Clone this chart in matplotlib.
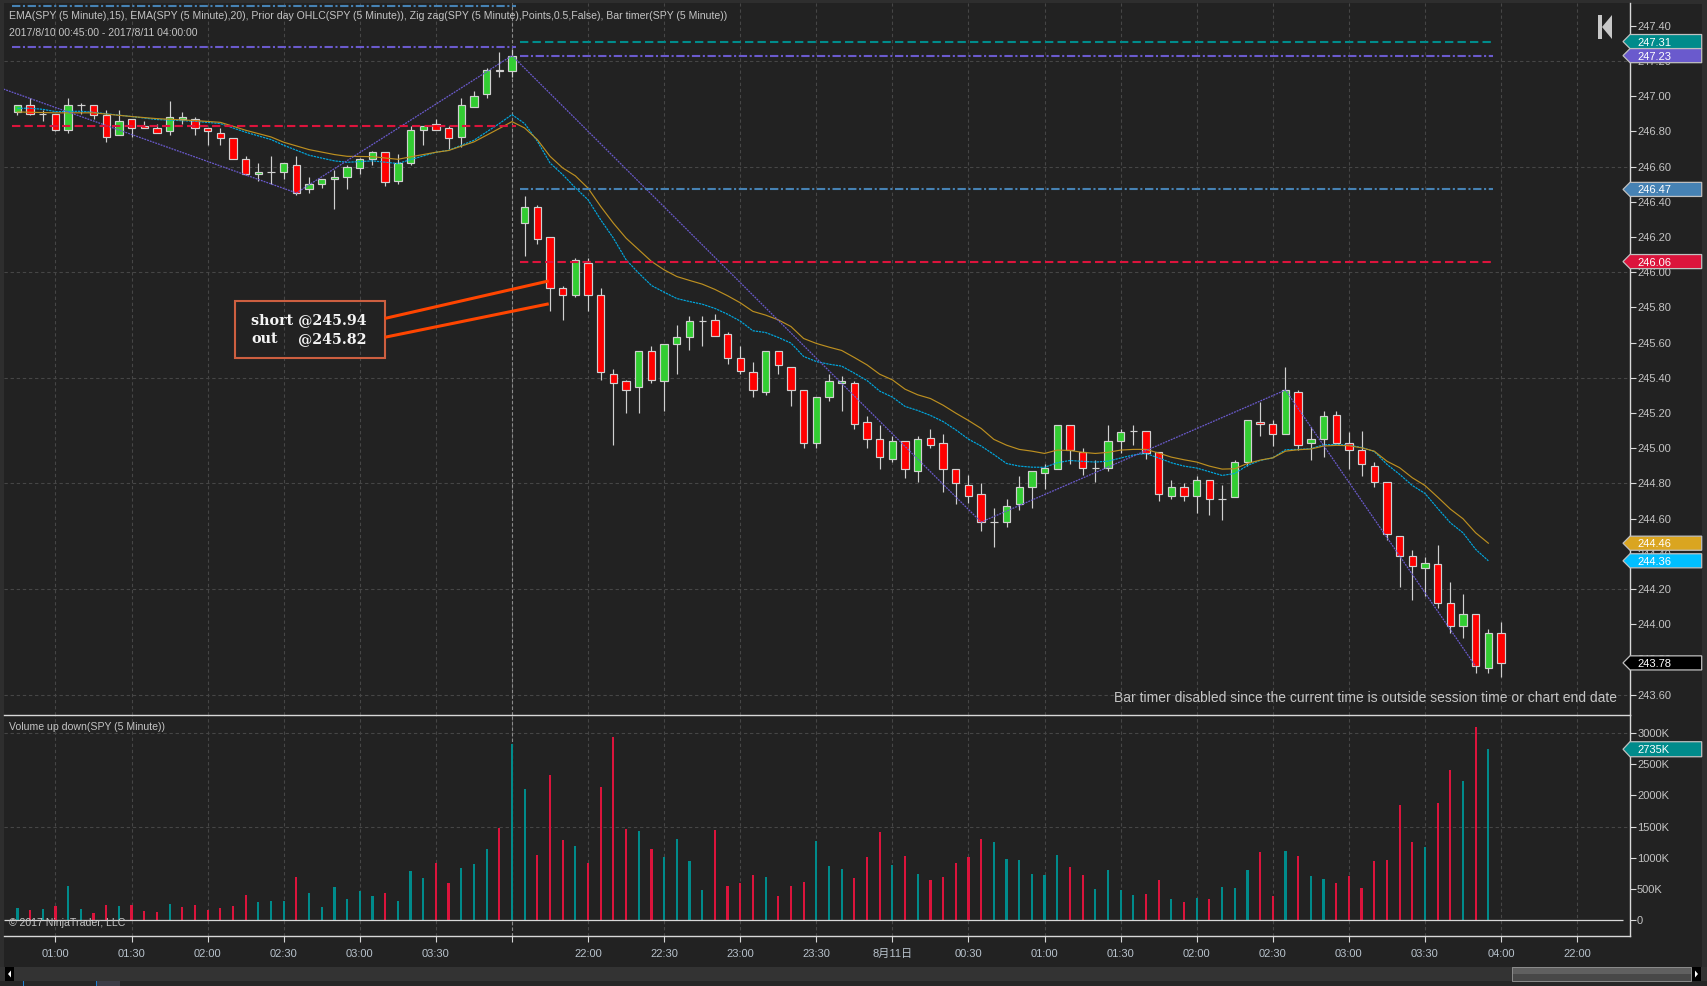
# Import
import matplotlib
matplotlib.use("Agg")
import numpy as np
import matplotlib.pyplot as plt
from matplotlib.patches import Polygon, Rectangle
from matplotlib.transforms import blended_transform_factory
from matplotlib.ticker import FixedLocator, FixedFormatter

plt.rcParams['font.family'] = ['Liberation Sans', 'Noto Sans CJK SC', 'DejaVu Sans']

# Candles, 5 minute bars, one row per ten bars
opens = [246.91, 246.95, 246.90, 246.90, 246.81, 246.95, 246.95, 246.89, 246.78, 246.87,
         246.83, 246.82, 246.80, 246.87, 246.87, 246.82, 246.79, 246.76, 246.64, 246.56,
         246.57, 246.57, 246.61, 246.47, 246.50, 246.53, 246.54, 246.59, 246.64, 246.68,
         246.52, 246.62, 246.81, 246.84, 246.82, 246.77, 246.94, 247.01, 247.15, 247.14,
         246.28, 246.37, 246.20, 245.91, 245.87, 246.05, 245.87, 245.42, 245.38, 245.35,
         245.55, 245.38, 245.59, 245.63, 245.72, 245.73, 245.65, 245.51, 245.43, 245.32,
         245.55, 245.46, 245.33, 245.03, 245.29, 245.37, 245.37, 245.15, 245.05, 244.94,
         245.04, 244.87, 245.06, 245.03, 244.88, 244.79, 244.74, 244.58, 244.58, 244.68,
         244.78, 244.86, 244.88, 245.13, 244.98, 244.89, 244.89, 245.04, 245.10, 245.10,
         244.98, 244.73, 244.78, 244.73, 244.82, 244.71, 244.72, 244.92, 245.15, 245.14,
         245.08, 245.32, 245.03, 245.05, 245.19, 245.03, 244.99, 244.90, 244.81, 244.50,
         244.39, 244.32, 244.34, 244.12, 243.99, 244.06, 243.75, 243.95]
closes = [246.95, 246.90, 246.90, 246.81, 246.95, 246.95, 246.89, 246.77, 246.86, 246.82,
          246.82, 246.79, 246.88, 246.88, 246.82, 246.80, 246.76, 246.64, 246.56, 246.57,
          246.57, 246.62, 246.45, 246.50, 246.53, 246.54, 246.60, 246.64, 246.68, 246.51,
          246.62, 246.81, 246.83, 246.81, 246.76, 246.95, 247.00, 247.15, 247.14, 247.23,
          246.37, 246.19, 245.91, 245.87, 246.07, 245.87, 245.43, 245.37, 245.33, 245.55,
          245.39, 245.59, 245.63, 245.72, 245.72, 245.64, 245.51, 245.44, 245.33, 245.55,
          245.47, 245.33, 245.03, 245.29, 245.38, 245.38, 245.14, 245.05, 244.95, 245.04,
          244.88, 245.05, 245.02, 244.88, 244.80, 244.73, 244.58, 244.58, 244.67, 244.78,
          244.87, 244.89, 245.13, 244.99, 244.89, 244.89, 245.04, 245.09, 245.10, 244.97,
          244.74, 244.78, 244.73, 244.82, 244.71, 244.71, 244.92, 245.16, 245.14, 245.08,
          245.33, 245.02, 245.05, 245.18, 245.03, 244.99, 244.91, 244.81, 244.51, 244.39,
          244.33, 244.35, 244.12, 243.99, 244.06, 243.76, 243.95, 243.78]
highs = [246.95, 246.99, 246.92, 246.90, 246.99, 246.96, 246.95, 246.92, 246.92, 246.87,
         246.86, 246.84, 246.97, 246.91, 246.88, 246.82, 246.82, 246.76, 246.66, 246.62,
         246.66, 246.62, 246.66, 246.54, 246.53, 246.58, 246.61, 246.65, 246.69, 246.68,
         246.67, 246.83, 246.83, 246.87, 246.83, 246.99, 247.03, 247.16, 247.25, 247.27,
         246.43, 246.38, 246.20, 245.92, 246.08, 246.08, 245.91, 245.45, 245.39, 245.55,
         245.58, 245.59, 245.70, 245.75, 245.75, 245.76, 245.66, 245.58, 245.49, 245.55,
         245.55, 245.46, 245.33, 245.29, 245.42, 245.41, 245.38, 245.18, 245.13, 245.07,
         245.04, 245.07, 245.11, 245.08, 244.88, 244.85, 244.80, 244.66, 244.71, 244.84,
         244.87, 244.91, 245.13, 245.13, 245.00, 244.93, 245.13, 245.11, 245.13, 245.10,
         244.98, 244.82, 244.80, 244.84, 244.82, 244.79, 244.93, 245.16, 245.26, 245.16,
         245.46, 245.33, 245.12, 245.21, 245.21, 245.09, 245.10, 244.92, 244.81, 244.50,
         244.42, 244.38, 244.45, 244.24, 244.17, 244.06, 243.97, 244.01]
lows = [246.89, 246.89, 246.86, 246.80, 246.79, 246.90, 246.87, 246.74, 246.78, 246.77,
        246.82, 246.79, 246.78, 246.84, 246.78, 246.72, 246.72, 246.64, 246.55, 246.52,
        246.50, 246.53, 246.44, 246.45, 246.48, 246.36, 246.47, 246.56, 246.61, 246.49,
        246.50, 246.61, 246.72, 246.81, 246.70, 246.71, 246.94, 246.99, 247.11, 247.11,
        246.09, 246.16, 245.78, 245.73, 245.86, 245.78, 245.39, 245.02, 245.20, 245.20,
        245.37, 245.21, 245.42, 245.56, 245.58, 245.64, 245.48, 245.42, 245.29, 245.30,
        245.42, 245.24, 245.00, 245.00, 245.27, 245.21, 245.11, 245.00, 244.88, 244.92,
        244.83, 244.81, 245.00, 244.75, 244.68, 244.69, 244.53, 244.44, 244.55, 244.65,
        244.66, 244.77, 244.88, 244.91, 244.85, 244.81, 244.87, 244.97, 245.02, 244.94,
        244.70, 244.71, 244.70, 244.63, 244.62, 244.59, 244.72, 244.90, 245.07, 245.01,
        245.08, 244.99, 244.93, 244.95, 245.03, 244.88, 244.84, 244.78, 244.48, 244.21,
        244.14, 244.16, 244.09, 243.95, 243.92, 243.72, 243.72, 243.70]

# EMA lines, read bar by bar where they bend
ema20_bars = [0, 3, 6, 9, 11, 14, 16, 17, 18, 20, 21, 23, 25, 26, 28, 30, 31, 33, 34, 36, 38, 39, 40, 41, 42, 43, 44,
              45, 46, 47, 48, 49, 50, 51, 52, 53, 54, 55, 56, 57, 58, 59, 60, 61, 62, 63, 64, 65, 66, 67, 68, 69, 70,
              71, 72, 73, 74, 75, 76, 77, 78, 79, 80, 81, 82, 83, 84, 85, 86, 87, 88, 89, 90, 91, 92, 93, 94, 95, 96,
              97, 98, 99, 100, 101, 102, 103, 104, 105, 106, 107, 108, 109, 110, 111, 112, 113, 114, 115, 116]
ema20 = [246.910, 246.905, 246.905, 246.884, 246.872, 246.861, 246.851, 246.829, 246.806, 246.768, 246.738, 246.696,
         246.668, 246.658, 246.656, 246.641, 246.655, 246.681, 246.691, 246.740, 246.816, 246.855, 246.819, 246.753,
         246.658, 246.592, 246.547, 246.477, 246.373, 246.278, 246.193, 246.127, 246.061, 246.013, 245.975, 245.953,
         245.932, 245.902, 245.866, 245.826, 245.777, 245.756, 245.729, 245.691, 245.623, 245.595, 245.574, 245.555,
         245.515, 245.473, 245.420, 245.388, 245.335, 245.303, 245.282, 245.244, 245.199, 245.157, 245.112, 245.050,
         245.017, 244.993, 244.983, 244.970, 244.989, 244.987, 244.976, 244.970, 244.976, 244.989, 244.993, 244.993,
         244.972, 244.949, 244.934, 244.921, 244.898, 244.881, 244.883, 244.913, 244.932, 244.945, 244.983, 244.991,
         244.995, 245.012, 245.016, 245.014, 245.002, 244.983, 244.926, 244.889, 244.832, 244.788, 244.722, 244.654,
         244.599, 244.519, 244.46]
ema15_bars = [0, 1, 2, 3, 5, 6, 9, 11, 14, 16, 17, 18, 20, 21, 23, 25, 26, 28, 30, 31, 33, 34, 36, 38, 39, 40, 41, 42, 43, 44,
              45, 46, 47, 48, 49, 50, 51, 52, 53, 54, 55, 56, 57, 58, 59, 60, 61, 62, 63, 64, 65, 66, 67, 68, 69, 70,
              71, 72, 73, 74, 75, 76, 77, 78, 79, 80, 81, 82, 83, 84, 85, 86, 87, 88, 89, 90, 91, 92, 93, 94, 95, 96,
              97, 98, 99, 100, 101, 102, 103, 104, 105, 106, 107, 108, 109, 110, 111, 112, 113, 114, 115, 116]
ema15 = [246.931, 246.931, 246.925, 246.912, 246.914, 246.908, 246.884, 246.867, 246.857, 246.844, 246.819, 246.795,
         246.753, 246.721, 246.664, 246.632, 246.624, 246.632, 246.617, 246.639, 246.681, 246.692, 246.749, 246.844,
         246.895, 246.844, 246.744, 246.620, 246.554, 246.479, 246.411, 246.297, 246.193, 246.070, 245.994, 245.924,
         245.886, 245.850, 245.833, 245.818, 245.794, 245.761, 245.722, 245.667, 245.657, 245.629, 245.597, 245.521,
         245.492, 245.477, 245.466, 245.426, 245.384, 245.324, 245.290, 245.237, 245.214, 245.186, 245.151, 245.104,
         245.051, 245.012, 244.964, 244.913, 244.898, 244.892, 244.891, 244.917, 244.930, 244.925, 244.921, 244.926,
         244.944, 244.961, 244.970, 244.944, 244.917, 244.898, 244.887, 244.866, 244.845, 244.856, 244.902, 244.930,
         244.945, 244.991, 244.993, 244.997, 245.019, 245.021, 245.017, 245.004, 244.981, 244.908, 244.851, 244.788,
         244.743, 244.658, 244.576, 244.519, 244.425, 244.36]

# Zig zag turning points
zigzag_bars = [-1.1, 22, 39, 76, 100, 115]
zigzag_vals = [247.04, 246.45, 247.23, 244.58, 245.33, 243.76]

# Prior day levels, one per session
old_levels = [247.51, 247.28, 246.83]
new_levels = [247.31, 247.23, 246.47, 246.06]

# Volume in K
volume = [197, 165, 181, 229, 548, 181, 117, 245, 229, 245,
          149, 133, 261, 213, 245, 160, 197, 229, 404, 293,
          309, 309, 692, 436, 213, 532, 340, 468, 388, 436,
          309, 787, 676, 915, 596, 835, 899, 1138, 1473, 2814,
          2096, 1043, 2319, 1282, 1186, 915, 2128, 2926, 1458, 1426,
          1138, 1011, 1298, 947, 484, 1442, 548, 596, 724, 692,
          388, 548, 612, 1266, 867, 819, 676, 1011, 1410, 883,
          1027, 739, 644, 692, 915, 1011, 1298, 1250, 979, 963,
          739, 724, 1043, 851, 724, 500, 803, 484, 404, 420,
          644, 340, 293, 356, 346, 537, 521, 809, 1096, 394,
          1112, 1032, 713, 665, 601, 713, 521, 952, 968, 1846,
          1255, 1176, 1878, 2404, 2229, 3090, 2735]
vol_dir = ("ududuuddud" "dduddddddu" "uuduuuuuud" "uuudduuudu" "udddu" "ddddu"
           "duuuuddddu" "ddduuudddu" "duddddduuu" "uuudduuuud" "dududuuudd"
           "uduudddddd" "duddudu")

# Axis labels
time_ticks = [3, 9, 15, 21, 27, 33, 39, 45, 51, 57, 63, 69, 75, 81, 87, 93, 99, 105, 111, 117, 123]
time_labels = ["01:00", "01:30", "02:00", "02:30", "03:00", "03:30", "", "22:00", "22:30", "23:00", "23:30",
               "8月11日", "00:30", "01:00", "01:30", "02:00", "02:30", "03:00", "03:30", "04:00", "22:00"]
price_ticks = [243.6, 243.8, 244.0, 244.2, 244.4, 244.6, 244.8, 245.0, 245.2, 245.4,
               245.6, 245.8, 246.0, 246.2, 246.4, 246.6, 246.8, 247.0, 247.2, 247.4]
price_grid = [243.6, 244.2, 244.8, 245.4, 246.0, 246.6, 247.2]
vol_ticks = [0, 500, 1000, 1500, 2000, 2500, 3000]
vol_grid = [1500, 3000]

# Parameters
W = 1708.0; H = 986.0
bg = "#222222"
gridCol = "#464646"
axisCol = "#d8d8d8"
txtCol = "#c4c4c4"
gridLs = (0, (3, 2.5))

fig = plt.figure(figsize=(17.08, 9.86), dpi=100, facecolor="#2e2e2e")

def axes_px(left, top, right, bottom):
    return fig.add_axes([left/W, 1-bottom/H, (right-left)/W, (bottom-top)/H], facecolor=bg)

def fig_rect(left, top, right, bottom, **kw):
    fig.add_artist(Rectangle((left/W, 1-bottom/H), (right-left)/W, (bottom-top)/H, ec=kw.pop("ec", "none"),
                             transform=fig.transFigure, **kw))

# Window areas behind the panels
fig_rect(4, 4, 1702, 967, fc=bg, zorder=-1)
fig_rect(0, 967, 1708, 981, fc="#333333", zorder=-1)
fig_rect(0, 981, 1708, 986, fc="#262626", zorder=-1)
fig_rect(96, 981, 120, 986, fc="#3c3c46", zorder=-1)
fig_rect(23, 981, 24, 986, fc="#1e7fd0", zorder=-1)
fig_rect(96, 981, 97, 986, fc="#1e7fd0", zorder=-1)

ax = axes_px(4, 3, 1630, 715)
vx = axes_px(4, 715, 1630, 936)
xlim = (-1.06, 127.17)
bars = np.arange(len(opens))

# Price panel
ax.set_xlim(xlim)
ax.set_ylim(243.484, 247.529)
ax.set_axisbelow(True)
for lvl in price_grid:
    ax.axhline(lvl, color=gridCol, lw=0.8, ls=gridLs, zorder=0.6)
ax.vlines(bars, lows, highs, color="#d0d0d0", lw=0.85, zorder=2)
ax.bar(bars, np.abs(np.array(closes)-np.array(opens)), bottom=np.minimum(opens, closes), width=0.58,
       color=["#32cd32" if c >= o else "#ff0000" for o, c in zip(opens, closes)],
       edgecolor="#d0d0d0", linewidth=0.85, zorder=3)
ax.plot(ema15_bars, ema15, color="#00a8e0", lw=0.85, ls=(0, (2, 0.7)), zorder=4)
ax.plot(ema20_bars, ema20, color="#bc8f20", lw=0.85, zorder=4)
ax.plot(zigzag_bars, zigzag_vals, color="#6a5acd", lw=0.9, ls=(0, (1.5, 0.8)), zorder=4)

# Prior day lines
ddash = (0, (4, 2))
ddot = (0, (4, 1.25, 1, 1.25))
ax.hlines(old_levels[0], -0.4, 39.3, color="#4682b4", lw=1.5, ls=ddot, zorder=4)
ax.hlines(old_levels[1], -0.4, 39.3, color="#6a5acd", lw=1.5, ls=ddot, zorder=4)
ax.hlines(old_levels[2], -0.4, 39.3, color="#dc143c", lw=1.5, ls=ddash, zorder=4)
ax.hlines(new_levels[0], 39.6, 116.4, color="#008b8b", lw=1.5, ls=ddash, zorder=4)
ax.hlines(new_levels[1], 39.6, 116.4, color="#6a5acd", lw=1.5, ls=ddot, zorder=4)
ax.hlines(new_levels[2], 39.6, 116.4, color="#4682b4", lw=1.5, ls=ddot, zorder=4)
ax.hlines(new_levels[3], 39.6, 116.4, color="#dc143c", lw=1.5, ls=ddash, zorder=4)

# Trade note
ax.add_patch(Rectangle((17.15, 245.511), 11.82, 0.324, fc="none", ec="#cd5f40", lw=1.5, zorder=5))
ax.plot([28.97, 41.9], [245.737, 245.95], color="#ff4500", lw=2.2, zorder=5, solid_capstyle="butt")
ax.plot([28.97, 41.9], [245.63, 245.82], color="#ff4500", lw=2.2, zorder=5, solid_capstyle="butt")
note = dict(family=["DejaVu Serif"], size=10.3, weight="bold", color="#f4f4f4", va="center", zorder=6)
ax.text(18.45, 245.728, "short @245.94", **note)
ax.text(18.45, 245.622, "out", **note)
ax.text(22.15, 245.622, "@245.82", **note)

# Volume panel
vx.set_xlim(xlim)
vx.set_ylim(-249, 3282)
vx.set_axisbelow(True)
for lvl in vol_grid:
    vx.axhline(lvl, color=gridCol, lw=0.8, ls=gridLs, zorder=0.6)
vx.bar(np.arange(len(volume)), volume, width=0.17,
       color=["#008b8b" if d == "u" else "#dc143c" for d in vol_dir], zorder=3)
vx.hlines(0, xlim[0], 126.6, color=axisCol, lw=0.9, zorder=4)

# Axes furniture
for a, yt, ylab in [(ax, price_ticks, ["%.2f" % p for p in price_ticks]),
                    (vx, vol_ticks, ["0" if v == 0 else "%dK" % v for v in vol_ticks])]:
    a.yaxis.tick_right()
    a.yaxis.set_major_locator(FixedLocator(yt))
    a.yaxis.set_major_formatter(FixedFormatter(ylab))
    a.tick_params(axis="y", length=4.3, width=0.8, color=axisCol, labelcolor=txtCol, labelsize=8, pad=0.8)
    a.xaxis.set_major_locator(FixedLocator(time_ticks))
    a.grid(axis="x", color=gridCol, lw=0.8, ls=gridLs)
    for side in ["top", "left", "bottom"]:
        a.spines[side].set_visible(False)
    a.spines["right"].set_color(axisCol)
    a.spines["right"].set_linewidth(1.0)
vx.spines["top"].set_visible(True)
vx.spines["top"].set_color(axisCol)
vx.spines["top"].set_linewidth(1.0)
vx.spines["top"].set_bounds(xlim[0], xlim[1])
vx.spines["bottom"].set_visible(True)
vx.spines["bottom"].set_color(axisCol)
vx.spines["bottom"].set_linewidth(1.0)
ax.tick_params(axis="x", length=0, labelbottom=False)
vx.xaxis.set_major_formatter(FixedFormatter(time_labels))
vx.tick_params(axis="x", length=4, width=0.8, color=axisCol, labelcolor="#b8c2cc", labelsize=8, pad=5.2)

# Cursor line over both panels
ax.axvline(39, color="#8c8c8c", lw=0.8, ls=(0, (3, 2)), zorder=1)
vx.axvline(39, color="#8c8c8c", lw=0.8, ls=(0, (3, 2)), zorder=1)

# Last value tags on the axis
def tag(a, val, txt, col, half):
    tr = blended_transform_factory(a.transAxes, a.transData)
    l = 1-7/1626.0; r = 1+71.7/1626.0
    a.add_patch(Polygon([(l, val), (1, val+half), (r, val+half), (r, val-half), (1, val-half)], closed=True,
                        fc=col, ec="#c0c0c0", lw=0.9, transform=tr, clip_on=False, zorder=7))
    a.text(1+7.5/1626.0, val, txt, transform=tr, color="white", size=8, va="center_baseline", zorder=8, clip_on=False)

tag(ax, 247.31, "247.31", "#008b8b", 0.04)
tag(ax, 247.23, "247.23", "#6a5acd", 0.04)
tag(ax, 246.47, "246.47", "#4682b4", 0.04)
tag(ax, 246.06, "246.06", "#dc143c", 0.04)
tag(ax, 244.46, "244.46", "#daa520", 0.04)
tag(ax, 244.36, "244.36", "#00bfff", 0.04)
tag(ax, 243.78, "243.78", "#000000", 0.04)
tag(vx, 2735, "2735K", "#008b8b", 120)

# Texts
def px_text(x, y, s, **kw):
    fig.text(x/W, 1-y/H, s, va="center", **kw)

px_text(9, 16, "EMA(SPY (5 Minute),15), EMA(SPY (5 Minute),20), Prior day OHLC(SPY (5 Minute)), Zig zag(SPY (5 Minute),Points,0.5,False), Bar timer(SPY (5 Minute))",
        color=txtCol, size=7.6, zorder=9)
px_text(9, 33, "2017/8/10 00:45:00 - 2017/8/11 04:00:00", color=txtCol, size=7.6, zorder=9)
px_text(9, 727, "Volume up down(SPY (5 Minute))", color=txtCol, size=7.6, zorder=9)
px_text(9, 923, "© 2017 NinjaTrader, LLC", color=txtCol, size=7.6, zorder=9)
px_text(1617, 698, "Bar timer disabled since the current time is outside session time or chart end date",
        color=txtCol, size=10.0, ha="right", zorder=9)

# Return button top right
fig_rect(1598, 15, 1602, 39, fc="#c8c8c8")
fig.add_artist(Polygon([(1602/W, 1-27/H), (1612/W, 1-15/H), (1612/W, 1-39/H)], closed=True, fc="#c8c8c8", ec="none",
                       transform=fig.transFigure))

# Scroll bar
fig_rect(5, 967, 14, 981, fc="#000000")
fig_rect(1692, 967, 1701, 981, fc="#000000")
fig.add_artist(Polygon([(8/W, 1-974/H), (11/W, 1-970.5/H), (11/W, 1-977.5/H)], closed=True, fc="white", ec="none",
                       transform=fig.transFigure))
fig.add_artist(Polygon([(1698/W, 1-974/H), (1695/W, 1-970.5/H), (1695/W, 1-977.5/H)], closed=True, fc="white", ec="none",
                       transform=fig.transFigure))
fig_rect(1512, 967, 1691, 974, fc="#606060")
fig_rect(1512, 974, 1691, 981, fc="#484848")
fig_rect(1512, 967, 1691, 981, fc="none", ec="#8c8c8c", lw=0.7)

fig.savefig("out.png", dpi=100, facecolor=fig.get_facecolor())
